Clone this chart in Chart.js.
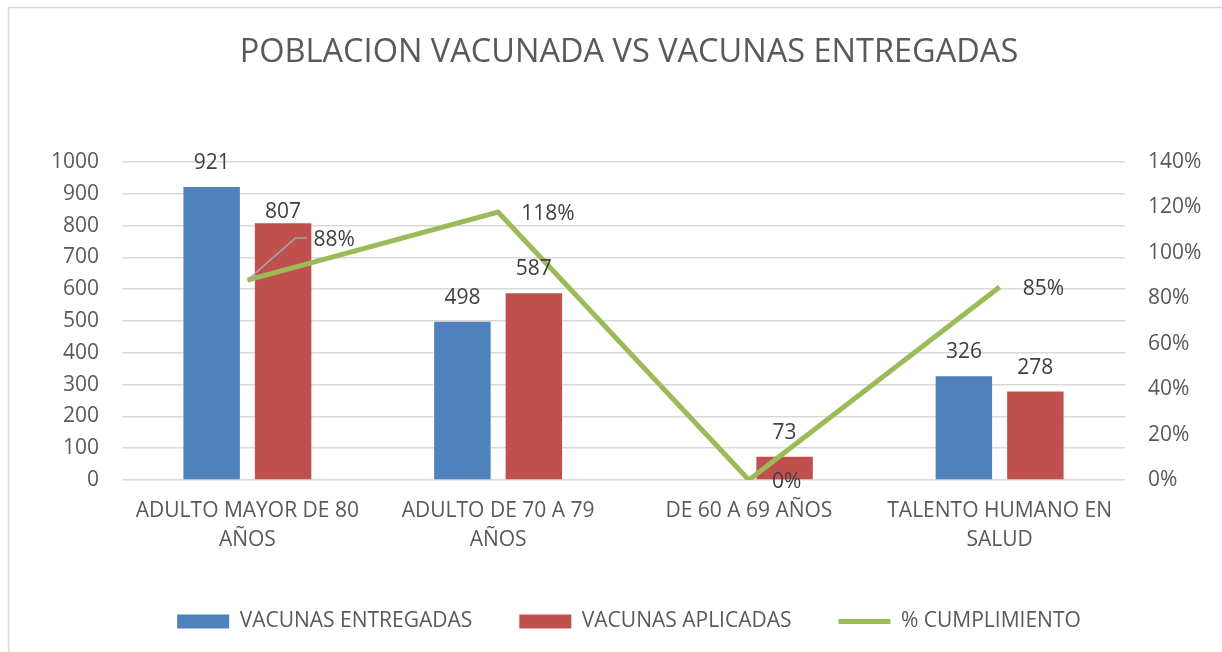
<!DOCTYPE html>
<html>
<head>
<meta charset="utf-8">
<script src="https://cdn.jsdelivr.net/npm/chart.js@4.4.0/dist/chart.umd.min.js"></script>
<style>
  html, body { margin: 0; padding: 0; background: #fff; }
  #wrap { width: 1222px; height: 652px; position: relative; }
</style>
</head>
<body>
<div id="wrap"><canvas id="chart" width="1222" height="652"></canvas></div>
<script>
const categories = [['ADULTO MAYOR DE 80', 'AÑOS'], ['ADULTO DE 70 A 79', 'AÑOS'], 'DE 60 A 69 AÑOS', ['TALENTO HUMANO EN', 'SALUD']];
const entregadas = [921, 498, 0, 326];
const aplicadas = [807, 587, 73, 278];
const cumplimiento = [0.88, 1.18, 0, 0.85];
const leftTicks = [0, 1000, 100];
const rightTicks = [0, 1.4, 0.2];

const FONT = '"Open Sans", sans-serif';
const GREY = '#595959';
const LABEL = '#404040';

// frame around the chart, like the office chart border
const framePlugin = {
  id: 'frame',
  beforeDraw(chart) {
    const ctx = chart.ctx;
    ctx.save();
    ctx.fillStyle = '#fff';
    ctx.fillRect(0, 0, chart.width, chart.height);
    ctx.strokeStyle = '#D9D9D9';
    ctx.lineWidth = 1.5;
    ctx.strokeRect(8.5, 7.5, chart.width + 20, chart.height + 20);
    ctx.restore();
  }
};

// value labels: bars above, line to the right
const labelPlugin = {
  id: 'labels',
  afterDatasetsDraw(chart) {
    const ctx = chart.ctx;
    ctx.save();
    ctx.font = '21px ' + FONT;
    ctx.fillStyle = LABEL;
    [0, 1].forEach(di => {
      const meta = chart.getDatasetMeta(di);
      const data = chart.data.datasets[di].data;
      meta.data.forEach((bar, i) => {
        if (!data[i]) return;
        ctx.textAlign = 'center';
        ctx.textBaseline = 'alphabetic';
        const gap = (di === 1 && i === 0) ? 5 : 18;
        ctx.fillText(String(data[i]), bar.x, bar.y - gap);
      });
    });
    const lm = chart.getDatasetMeta(2);
    const ld = chart.data.datasets[2].data;
    lm.data.forEach((pt, i) => {
      const txt = Math.round(ld[i] * 100) + '%';
      ctx.textAlign = 'left';
      ctx.textBaseline = 'middle';
      if (i === 0) {
        // moved label with leader line
        ctx.strokeStyle = '#A6A6A6';
        ctx.lineWidth = 1.5;
        ctx.beginPath();
        ctx.moveTo(pt.x, pt.y);
        ctx.lineTo(pt.x + 48, pt.y - 42);
        ctx.lineTo(pt.x + 59, pt.y - 42);
        ctx.stroke();
        ctx.fillText(txt, pt.x + 66, pt.y - 40);
      } else {
        ctx.fillText(txt, pt.x + 23, pt.y + 2);
      }
    });
    ctx.restore();
  }
};

new Chart(document.getElementById('chart'), {
  type: 'bar',
  data: {
    labels: categories,
    datasets: [
      { label: 'VACUNAS ENTREGADAS', data: entregadas, backgroundColor: '#4F81BD', yAxisID: 'y', order: 2,
        categoryPercentage: 0.57, barPercentage: 0.79 },
      { label: 'VACUNAS APLICADAS', data: aplicadas, backgroundColor: '#C0504D', yAxisID: 'y', order: 2,
        categoryPercentage: 0.57, barPercentage: 0.79 },
      { type: 'line', label: '% CUMPLIMIENTO', data: cumplimiento, borderColor: '#9BBB59', backgroundColor: '#9BBB59',
        borderWidth: 5, pointRadius: 0, tension: 0, yAxisID: 'y1', order: 1 }
    ]
  },
  options: {
    responsive: false,
    animation: false,
    layout: { padding: { left: 36, right: 0, top: 0, bottom: 10 } },
    plugins: {
      title: {
        display: true,
        text: 'POBLACION VACUNADA VS VACUNAS ENTREGADAS',
        color: GREY,
        font: { family: FONT, size: 32.5, weight: 'normal' },
        padding: { top: 33, bottom: 90 }
      },
      legend: {
        position: 'bottom',
        labels: {
          color: GREY,
          font: { family: FONT, size: 21 },
          usePointStyle: true,
          pointStyleWidth: 52,
          boxHeight: 14,
          padding: 47,
          generateLabels(chart) {
            return chart.data.datasets.map((ds, i) => ({
              text: ds.label,
              fillStyle: ds.backgroundColor,
              strokeStyle: ds.borderColor || ds.backgroundColor,
              lineWidth: ds.type === 'line' ? 5 : 0,
              pointStyle: ds.type === 'line' ? 'line' : 'rect',
              fontColor: GREY,
              datasetIndex: i
            }));
          }
        }
      },
      tooltip: { enabled: false }
    },
    scales: {
      x: {
        grid: { display: false },
        border: { display: false },
        ticks: { color: GREY, font: { family: FONT, size: 21, lineHeight: 1.4 }, maxRotation: 0, padding: 8 },
        afterFit(s) { s.height = 84; }
      },
      y: {
        position: 'left',
        min: leftTicks[0], max: leftTicks[1],
        ticks: { stepSize: leftTicks[2], color: GREY, font: { family: FONT, size: 21 }, padding: 23,
          callback: v => String(v) },
        grid: { color: '#D9D9D9', lineWidth: 1.5, drawTicks: false },
        border: { display: false },
        afterFit(s) { s.width = 86; }
      },
      y1: {
        position: 'right',
        min: rightTicks[0], max: rightTicks[1],
        ticks: { stepSize: rightTicks[2], color: GREY, font: { family: FONT, size: 21 }, padding: 23,
          callback: v => Math.round(v * 100) + '%' },
        grid: { display: false, drawTicks: false },
        border: { display: false },
        afterFit(s) { s.width = 97; }
      }
    }
  },
  plugins: [framePlugin, labelPlugin]
});
</script>
</body>
</html>
